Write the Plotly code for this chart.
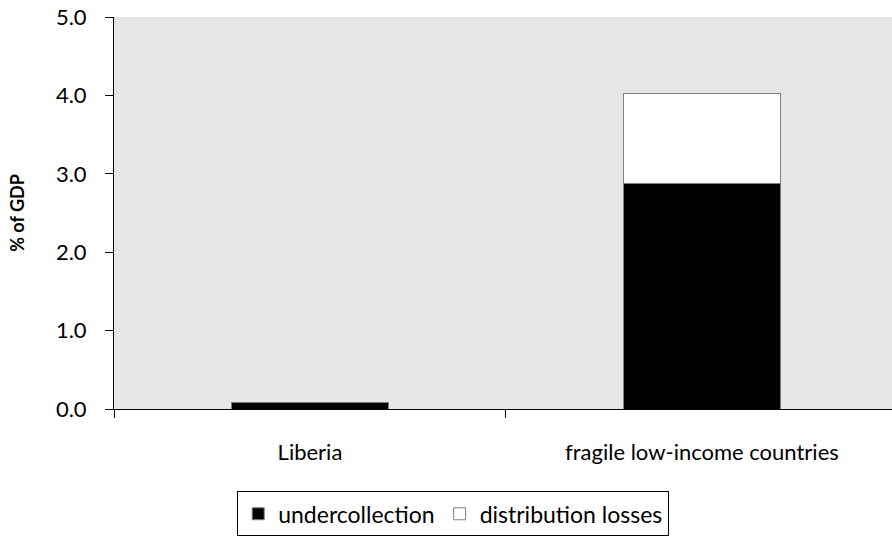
import plotly.graph_objects as go

categories = ["Liberia", "fragile low-income countries"]
undercollection = [0.08, 2.88]
distribution_losses = [0.0, 1.14]
y_ticks = [0, 1, 2, 3, 4, 5]

font = "Lato, Open Sans, sans-serif"

fig = go.Figure()
fig.add_trace(go.Bar(
    x=categories, y=undercollection, name="undercollection",
    marker=dict(color="black", line=dict(color="#7f7f7f", width=1)),
    width=0.4,
))
fig.add_trace(go.Bar(
    x=categories, y=distribution_losses, name="distribution losses",
    marker=dict(color="white", line=dict(color="#7f7f7f", width=1)),
    width=0.4,
))

fig.update_layout(
    barmode="stack",
    width=892, height=541,
    paper_bgcolor="white",
    plot_bgcolor="#e6e6e6",
    font=dict(family=font, size=22, color="black"),
    margin=dict(l=114, r=0, t=17, b=132),
    showlegend=True,
    legend=dict(
        orientation="h", x=0.436, xanchor="center", y=-0.21, yanchor="top",
        bordercolor="black", borderwidth=1, font=dict(size=23),
        traceorder="normal",
    ),
    # plot area runs a little past the right edge in the original
    xaxis=dict(
        range=[-0.5, 1.485], showline=True, linecolor="black", linewidth=1,
        ticks="outside", tickson="boundaries", ticklen=8, tickcolor="black",
        showgrid=False, ticklabelstandoff=24,
    ),
    yaxis=dict(
        range=[0, 5], tickvals=y_ticks, tickformat=".1f",
        showline=True, linecolor="black", linewidth=1,
        ticks="outside", ticklen=8, tickcolor="black", showgrid=False,
        zeroline=False, ticklabelstandoff=14,
        title=dict(text="<b>% of GDP</b>", font=dict(size=18), standoff=26),
    ),
)

# drop the default 8px page margin so the chart sits at the window's corner
fig.write_html(
    "out.html",
    config={"displayModeBar": False},
    post_script="document.body.style.margin='0';",
)
